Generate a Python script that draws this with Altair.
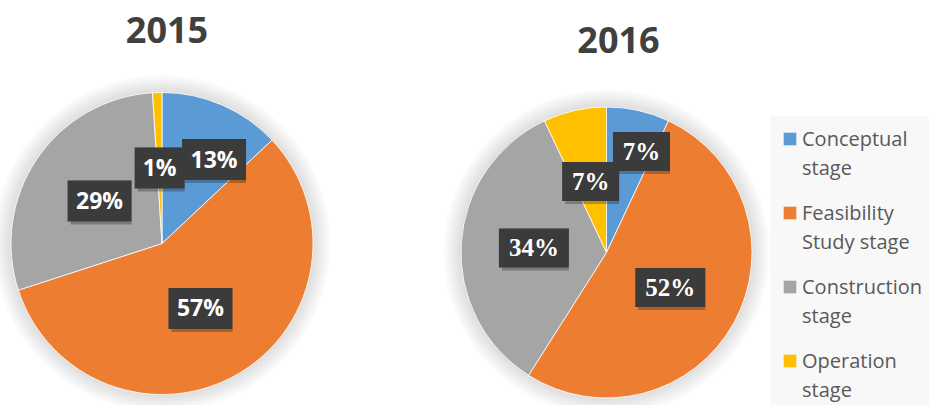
import altair as alt
import pandas as pd

# ---- data ----
stages = ["Conceptual stage", "Feasibility Study stage", "Construction stage", "Operation stage"]
legend_labels = ["Conceptual\nstage", "Feasibility\nStudy stage", "Construction\nstage", "Operation\nstage"]
years = ["2015", "2016"]
share_2015 = [13, 57, 29, 1]
share_2016 = [7, 52, 34, 7]
colors = ["#5B9BD5", "#ED7D31", "#A5A5A5", "#FFC000"]

TEXT_DARK = "#404040"
BOX = "#3b3b3b"


def pie_panel(year, values, W, cx, cy, R, title_x, title_base, font, fsize, text_dy,
              box_h, box_w0, box_wc, first_shift_deg, first_f):
    df = pd.DataFrame({"stage": stages, "value": values, "order": list(range(len(stages)))})
    xs = alt.Scale(domain=[-1, 1], range=[cx - R, cx + R])
    ys = alt.Scale(domain=[-1, 1], range=[cy + R, cy - R])
    base = alt.Chart(df)
    color = alt.Color("stage:N", scale=alt.Scale(domain=stages, range=colors), legend=None)
    center = dict(x=alt.XDatum(0, scale=xs, axis=None), y=alt.YDatum(0, scale=ys, axis=None))
    theta = alt.Theta("value:Q", stack=True)

    layers = []
    # soft shadow halo
    for k in range(1, 9):
        layers.append(
            base.mark_arc(outerRadius=R + 2.2 * k, color="black", opacity=0.014,
                          strokeWidth=0, clip=True)
            .encode(theta=theta, order="order:Q", **center)
        )
    layers.append(
        base.mark_arc(outerRadius=R, stroke="white", strokeWidth=0.8)
        .encode(theta=theta, color=color, order="order:Q", **center)
    )

    lab = (
        base.transform_joinaggregate(total="sum(value)")
        .transform_window(cum="sum(value)", sort=[alt.SortField("order")], frame=[None, 0])
        .transform_calculate(
            label="datum.value + '%'",
            ang=f"(datum.cum - datum.value/2)/datum.total*2*PI + (datum.order == 0 ? {first_shift_deg}*PI/180 : 0)",
            f=f"datum.order == 0 ? {first_f} : 0.5",
        )
        .transform_calculate(
            lx="datum.f*sin(datum.ang)",
            ly="datum.f*cos(datum.ang)",
            hw=f"({box_w0} + {box_wc}*length(datum.label))/2/{R}",
            hh=f"{box_h}/2/{R}",
        )
        .transform_calculate(
            x0="datum.lx - datum.hw", x1="datum.lx + datum.hw",
            y0="datum.ly - datum.hh", y1="datum.ly + datum.hh",
        )
    )
    box_enc = dict(
        x=alt.X("x0:Q", scale=xs, axis=None), x2="x1:Q",
        y=alt.Y("y0:Q", scale=ys, axis=None), y2="y1:Q",
    )
    layers.append(lab.mark_rect(color="black", opacity=0.25, xOffset=3, yOffset=3).encode(**box_enc))
    layers.append(lab.mark_rect(color=BOX).encode(**box_enc))
    layers.append(
        lab.mark_text(font=font, fontSize=fsize, fontWeight="bold", color="white",
                      baseline="alphabetic", align="center", dy=text_dy)
        .encode(x=alt.X("lx:Q", scale=xs, axis=None), y=alt.Y("ly:Q", scale=ys, axis=None),
                text="label:N")
    )
    layers.append(
        base.transform_filter("datum.order == 0")
        .mark_text(font="Open Sans", fontSize=36, fontWeight="bold", color=TEXT_DARK,
                   baseline="alphabetic", align="center")
        .encode(x=alt.value(title_x), y=alt.value(title_base), text=alt.value(year))
    )
    return alt.layer(*layers).properties(width=W, height=405)


p1 = pie_panel(years[0], share_2015, 440, 162, 243.5, 151, 167, 43,
               "Open Sans", 23, 8, 41, 22, 14, 8.4, 0.654)
p2 = pie_panel(years[1], share_2016, 330, 166.5, 252.5, 145.5, 178.5, 53,
               "Liberation Serif", 25, 8.5, 39, 31, 13, 6.5, 0.735)

# ---- legend panel ----
ldf = pd.DataFrame({"stage": stages, "label": legend_labels, "order": list(range(len(stages)))})
lbase = alt.Chart(ldf)
lys = alt.Scale(domain=stages, range=[139, 361], padding=0)
bg = (
    lbase.transform_filter("datum.order == 0")
    .mark_rect(color="#f8f8f8")
    .encode(x=alt.value(0), x2=alt.value(159), y=alt.value(116), y2=alt.value(405))
)
sq = lbase.mark_square(size=160, opacity=1).encode(
    x=alt.value(20),
    y=alt.Y("stage:N", scale=lys, axis=None),
    color=alt.Color("stage:N", scale=alt.Scale(domain=stages, range=colors), legend=None),
)
txt = lbase.mark_text(
    font="Open Sans", fontSize=20, color="#595959", align="left", baseline="alphabetic",
    lineBreak="\n", lineHeight=29, dy=7,
).encode(x=alt.value(32), y=alt.Y("stage:N", scale=lys, axis=None), text="label:N")
legend = alt.layer(bg, sq, txt).properties(width=159, height=405)

chart = (
    alt.hconcat(p1, p2, legend, spacing=0)
    .resolve_scale(x="independent", y="independent")
    .properties(padding=0)
    .configure_view(strokeWidth=0)
)

chart.save("out.html", embed_options={"renderer": "svg", "actions": False})
